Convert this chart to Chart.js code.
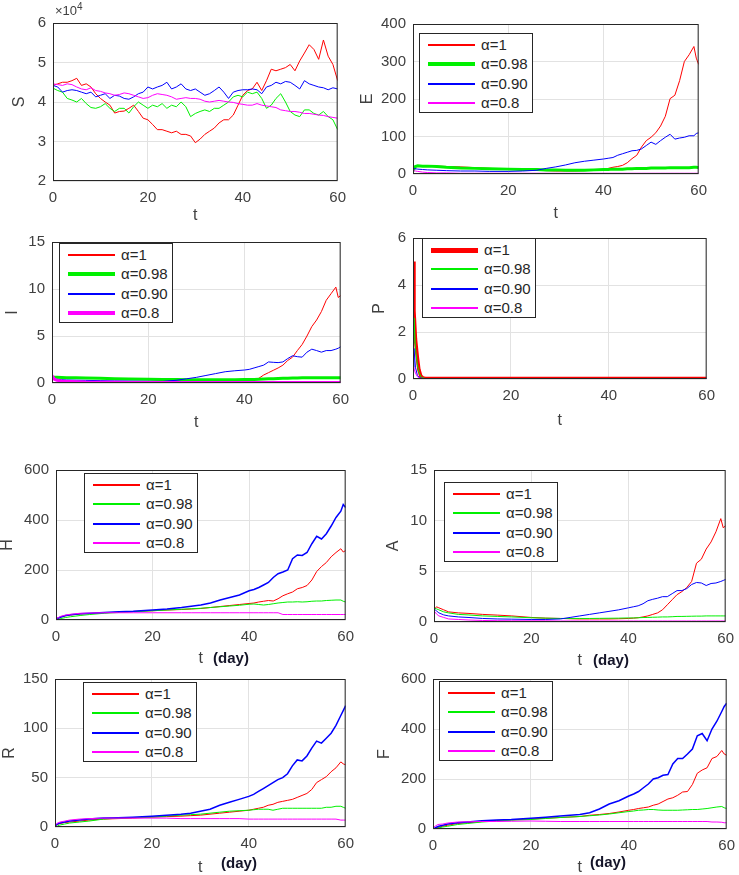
<!DOCTYPE html>
<html lang="en">
<head>
<meta charset="utf-8">
<title>Stochastic fractional model - sample paths</title>
<script src="https://cdn.jsdelivr.net/npm/chart.js"></script>
<style>
  body { margin:0; background:#fff; width:739px; height:875px; position:relative; overflow:hidden;
         font-family:"Liberation Sans", Arial, sans-serif; }
  canvas { position:absolute; }
  .legend { position:absolute; background:#fff; border:1px solid #262626; width:114px; height:80px;
            box-sizing:border-box; z-index:3; }
  .legend .sw { position:absolute; left:8px; width:47px; }
  .legend .lb { position:absolute; left:61px; font-size:15px; line-height:18px; color:#262626; white-space:nowrap; }
  .exp { position:absolute; left:55px; top:1px; font-size:13px; color:#404040; z-index:3; }
  .exp sup { font-size:10px; }
  .day { position:absolute; font-weight:bold; font-size:15px; line-height:18px; color:#141428;
         transform:translate(-50%,-50%); z-index:3; }
</style>
</head>
<body>
<div class="exp">&times;10<sup>4</sup></div>
<script>
// time grids
const tS = [0,1,2,3,4,5,6,7,8,9,10,11,12,13,14,15,16,17,18,19,20,21,22,23,24,25,26,27,28,29,
            30,31,32,33,34,35,36,37,38,39,40,41,42,43,44,45,46,47,48,49,50,51,52,53,54,55,56,57,58,59,60];
const tGrid = [0,0.5,1,2,3,5,7,10,13,16,20,23,26,28,30,32,34,36,38,40,41,42,43,44,45,46,47,48,49,50,
               51,52,53,54,55,56,57,58,59,59.5,60];
const tP = [0,0.2,0.5,0.9,1.2,1.6,2,2.5,3,60];

const alphaLabels = ['α=1', 'α=0.98', 'α=0.90', 'α=0.8'];
const seriesColors = ['#ff0000', '#00f000', '#0000ff', '#ff00ff'];

// S (units of 10^4)
const sRed = [4.42,4.46,4.5,4.5,4.54,4.6,4.42,4.46,4.38,4.21,
  4.09,4.0,3.92,3.72,3.76,3.77,3.84,3.92,3.76,3.59,
  3.55,3.43,3.3,3.3,3.26,3.22,3.26,3.18,3.18,3.14,
  2.97,3.06,3.18,3.26,3.34,3.47,3.55,3.55,3.67,3.92,
  4.17,4.29,4.33,4.5,4.29,4.54,4.83,4.79,4.83,4.87,
  4.95,4.79,5.04,5.24,5.45,5.33,5.08,5.57,5.16,4.95,4.54];
const sGreen = [4.35,4.29,4.25,4.09,4.05,4.0,4.09,3.96,3.86,3.84,
  3.88,3.96,3.84,3.76,3.84,3.84,3.72,3.88,4.0,3.92,
  3.84,3.92,3.88,3.96,3.84,3.92,3.88,4.0,3.88,3.63,
  3.71,3.76,3.8,3.76,3.84,3.84,3.92,4.0,4.13,4.17,
  4.13,4.25,4.21,4.25,4.09,3.84,3.92,4.09,4.21,4.0,
  3.76,3.67,3.63,3.8,3.8,3.71,3.67,3.76,3.63,3.55,3.3];
const sBlue = [4.42,4.38,4.25,4.29,4.31,4.29,4.25,4.21,4.25,4.13,
  4.17,4.21,4.09,4.17,4.15,4.09,4.07,4.13,4.21,4.25,
  4.38,4.33,4.38,4.42,4.5,4.33,4.38,4.46,4.33,4.29,
  4.33,4.25,4.17,4.21,4.29,4.38,4.25,4.09,4.25,4.29,
  4.31,4.31,4.33,4.31,4.21,4.38,4.42,4.5,4.46,4.52,
  4.5,4.42,4.33,4.54,4.46,4.42,4.38,4.36,4.31,4.36,4.33];
const sMagenta = [4.46,4.44,4.42,4.46,4.44,4.38,4.33,4.31,4.36,4.29,
  4.27,4.23,4.21,4.17,4.19,4.23,4.21,4.17,4.13,4.09,
  4.11,4.17,4.21,4.19,4.17,4.13,4.07,4.09,4.11,4.09,
  4.09,4.07,4.02,4.0,4.02,4.04,4.02,4.0,3.99,3.96,
  3.94,3.92,3.92,3.96,3.92,3.9,3.88,3.86,3.8,3.78,
  3.76,3.76,3.74,3.71,3.71,3.69,3.67,3.66,3.63,3.61,3.59];

// E
const eRed = [15,20,21,22,21,21,20,19,17,15,13,11,10,9,8,8,8,9,10,11,15,18,20,23,30,41,50,72,89,98,
  110,128,154,201,210,249,300,318,340,309,292];
const eGreen = [8,20,22,21,21,20,18,16,15,14,13,12,12,11,11,10,10,10,11,12,12,13,13,13,14,14,15,15,15,16,
  16,16,16,17,17,17,17,17,18,18,17];
const eBlue = [15,14,13,12,11,10,9,8,8,7,7,8,10,15,19,24,30,34,37,40,42,44,50,54,58,62,63,67,76,85,
  79,89,98,106,93,96,98,102,102,108,110];
const eMagenta = [10,8,7,5,4,3,3,2,2,2,2,2,2,2,2,2,2,2,2,2,2,2,2,2,2,2,2,2,2,2,
  2,2,2,2,2,2,2,2,2,2,2];

// I
const iRed = [0.6,0.6,0.6,0.6,0.55,0.55,0.5,0.5,0.45,0.42,0.38,0.32,0.28,0.25,0.22,0.2,0.2,0.2,0.2,0.22,
  0.25,0.32,0.5,0.85,1.1,1.35,1.6,1.9,2.4,2.75,3.45,4.1,5.0,6.0,6.7,7.6,8.8,9.5,10.2,9.1,9.3];
const iGreen = [0.5,0.6,0.6,0.58,0.56,0.55,0.52,0.5,0.45,0.42,0.4,0.38,0.36,0.35,0.35,0.35,0.35,0.35,0.35,0.36,
  0.37,0.38,0.4,0.42,0.45,0.45,0.48,0.5,0.5,0.52,0.52,0.55,0.55,0.55,0.55,0.55,0.55,0.55,0.55,0.55,0.55];
const iBlue = [0.5,0.45,0.4,0.35,0.32,0.3,0.28,0.25,0.22,0.2,0.18,0.17,0.3,0.45,0.6,0.8,1.0,1.2,1.3,1.38,
  1.45,1.6,1.75,1.9,2.24,2.2,2.17,2.24,2.6,2.9,2.8,2.75,3.28,3.6,3.45,3.28,3.45,3.45,3.6,3.7,3.86];
const iMagenta = [0.8,0.4,0.3,0.22,0.18,0.14,0.1,0.08,0.07,0.06,0.05,0.05,0.05,0.05,0.05,0.05,0.05,0.05,0.05,0.05,
  0.05,0.05,0.05,0.05,0.05,0.05,0.05,0.05,0.05,0.05,0.05,0.05,0.05,0.05,0.05,0.05,0.05,0.05,0.05,0.05,0.05];

// P
const pRed = [5,2.9,1.7,0.9,0.4,0.12,0.05,0.02,0.02,0.02];
const pGreen = [1.5,2.6,1.3,0.6,0.3,0.1,0.05,0.02,0.02,0.02];
const pBlue = [0.5,1.3,0.5,0.15,0.08,0.04,0.02,0.02,0.02,0.02];
const pMagenta = [0.5,0.45,0.25,0.1,0.05,0.03,0.02,0.02,0.02,0.02];

// H
const hRed = [5,8,12,17,20,24,26,29,31,34,37,40,42,44,46,50,54,58,62,66,68,72,75,78,76,85,97,105,112,125,
  130,138,160,194,214,230,253,270,285,272,278];
const hGreen = [0,3,6,10,13,18,22,27,30,33,37,40,43,45,47,50,53,56,59,63,64,62,60,62,65,68,70,72,72,73,
  72,73,75,76,76,78,79,80,80,75,72];
const hBlue = [5,8,12,18,21,25,27,30,33,35,40,44,50,55,60,68,80,90,100,117,122,130,140,150,170,185,192,200,245,260,
  258,270,305,335,324,345,376,410,435,462,450];
const hMagenta = [5,10,15,20,23,27,28,29,29,29,29,29,29,29,29,29,29,29,29,29,29,29,29,29,29,29,22,22,22,22,
  22,22,22,22,22,22,22,22,22,22,22];

// A
const aRed = [1.2,1.5,1.4,1.2,1.0,0.9,0.85,0.75,0.68,0.6,0.45,0.38,0.35,0.32,0.3,0.3,0.3,0.3,0.32,0.35,
  0.38,0.42,0.5,0.6,0.75,0.9,1.2,1.7,2.2,2.7,3.0,3.4,4.0,5.8,6.2,7.2,7.9,8.9,10.2,9.3,9.5];
const aGreen = [1.4,1.3,1.2,1.0,0.9,0.75,0.7,0.6,0.55,0.5,0.42,0.38,0.35,0.35,0.35,0.35,0.36,0.37,0.38,0.4,
  0.4,0.42,0.44,0.45,0.47,0.48,0.5,0.5,0.52,0.55,0.55,0.56,0.57,0.58,0.58,0.6,0.6,0.6,0.6,0.6,0.6];
const aBlue = [1.3,1.1,0.9,0.7,0.6,0.5,0.45,0.35,0.3,0.28,0.25,0.25,0.3,0.45,0.6,0.75,0.9,1.05,1.2,1.4,
  1.5,1.6,1.8,2.1,2.24,2.35,2.5,2.5,2.8,3.1,3.1,3.3,3.7,3.9,3.85,3.6,3.8,3.85,4.0,4.1,4.2];
const aMagenta = [1.1,0.8,0.6,0.45,0.3,0.25,0.2,0.15,0.13,0.12,0.12,0.12,0.1,0.1,0.1,0.1,0.1,0.1,0.1,0.1,
  0.1,0.1,0.1,0.1,0.1,0.1,0.1,0.1,0.1,0.1,0.1,0.1,0.1,0.1,0.1,0.1,0.1,0.1,0.1,0.1,0.1];

// R
const rRed = [1,2.5,3.5,4.5,5,6,7,8,8.5,9,10,10.5,11,11.5,12,13,14,15,16,17,18,19,20,22,23,25,26,27,28,30,
  32,34,38,45,48,51,56,60,66,64,63];
const rGreen = [0,1,2,3,4,5,6,8,9,9.5,10,11,12,12.5,13,14,15,16,16.5,17,17.5,18,18,18,17,18,19,19,19,19,
  19,19,19,19,19,20,20,21,21,20,19];
const rBlue = [1,3,4,5,6,7,8,9,9.5,10,11,12,13,14,16,18,22,25,28,31,33,36,39,42,45,48,50,54,62,68,
  67,72,80,87,85,90,95,103,113,118,123];
const rMagenta = [2,4,5,6,7,8,8.5,9,9,9,9,9,8.5,8.5,8.5,8.5,8.5,8.5,8.5,8,8,8,8,8,8,8,8,8,8,8,
  8,8,8,8,8,8,8,8,7,7,7];

// F
const fRed = [0,3,6,11,15,22,25,30,34,37,40,43,46,48,50,55,58,62,68,75,78,82,85,88,95,100,110,120,125,135,
  148,150,178,223,236,245,282,290,314,300,295];
const fGreen = [0,2,4,8,11,18,22,28,32,35,38,42,46,48,50,53,56,60,65,70,72,75,76,78,78,76,75,75,75,75,
  76,77,78,78,80,82,85,88,90,85,82];
const fBlue = [0,5,10,15,20,25,28,33,36,38,43,47,52,55,58,65,80,100,113,132,140,150,165,180,200,205,215,218,260,282,
  282,300,320,373,382,353,400,431,470,490,503];
const fMagenta = [5,12,18,20,24,28,29,30,30,31,32,31,30,30,30,30,30,30,30,30,30,30,30,30,30,30,30,30,30,30,
  30,30,30,30,30,30,28,28,27,25,25];

// y tick values
const sTicks = [2,3,4,5,6];
const eTicks = [0,100,200,300,400];
const iTicks = [0,5,10,15];
const pTicks = [0,2,4,6];
const hTicks = [0,200,400,600];
const aTicks = [0,5,10,15];
const rTicks = [0,50,100,150];
const fTicks = [0,200,400,600];
const xTicks = [0,20,40,60];

// layout: area = [left, top, right, bottom] of the plot box in page px
const panels = [
  { name:'S', t:tS, values:[sRed,sGreen,sBlue,sMagenta], ticks:sTicks, area:[53,19,340,181], yLabelX:20, xLabelY:215, widths:[1,1,1,1] },
  { name:'E', t:tGrid, values:[eRed,eGreen,eBlue,eMagenta], ticks:eTicks, area:[413,20,701,174], yLabelX:368, xLabelY:213, widths:[1,3,1,1],
    legend:{ x:419, y:33, widths:[2,4,2,2] } },
  { name:'I', t:tGrid, values:[iRed,iGreen,iBlue,iMagenta], ticks:iTicks, area:[52,238,343,383], yLabelX:13, xLabelY:422, widths:[1,3,1,3],
    legend:{ x:59, y:243, widths:[2,4,2,4] } },
  { name:'P', t:tP, values:[pRed,pGreen,pBlue,pMagenta], ticks:pTicks, area:[413,234,709,379], yLabelX:380, xLabelY:420, widths:[3.5,1,1,1],
    legend:{ x:422, y:238, widths:[5,2,2,2] } },
  { name:'H', t:tGrid, values:[hRed,hGreen,hBlue,hMagenta], ticks:hTicks, area:[56,466,348,620], yLabelX:8, xLabelY:658, widths:[1,1,1.5,1],
    legend:{ x:84, y:473, widths:[2,2,2,2] }, day:[231,658] },
  { name:'A', t:tGrid, values:[aRed,aGreen,aBlue,aMagenta], ticks:aTicks, area:[434,466,728,622], yLabelX:394, xLabelY:660, widths:[1,1,1,1],
    legend:{ x:444, y:482, widths:[2,2,2,2] }, day:[611,660] },
  { name:'R', t:tGrid, values:[rRed,rGreen,rBlue,rMagenta], ticks:rTicks, area:[55,675,348,827], yLabelX:10, xLabelY:867, widths:[1,1,1.5,1],
    legend:{ x:83, y:682, widths:[2,2,2,2] }, day:[239,863] },
  { name:'F', t:tGrid, values:[fRed,fGreen,fBlue,fMagenta], ticks:fTicks, area:[433,675,729,829], yLabelX:385, xLabelY:867, widths:[1,1,1.5,1],
    legend:{ x:439, y:681, widths:[2,2,2,2] }, day:[608,862] }
];

const boxPlugin = {
  id: 'box',
  afterDatasetsDraw(chart) {
    const { ctx, chartArea: a } = chart;
    ctx.save();
    ctx.strokeStyle = '#262626';
    ctx.lineWidth = 1;
    ctx.strokeRect(a.left + 0.5, a.top + 0.5, a.right - a.left - 1, a.bottom - a.top - 1);
    ctx.restore();
  }
};

function makePanel(p) {
  const [l, t, r, b] = p.area;
  const cl = Math.round(p.yLabelX - 9.6);
  const ct = t - 12;
  const cr = r + 14;
  const cb = Math.round(p.xLabelY + 9.6);
  const canvas = document.createElement('canvas');
  canvas.width = cr - cl;
  canvas.height = cb - ct;
  canvas.style.left = cl + 'px';
  canvas.style.top = ct + 'px';
  document.body.appendChild(canvas);
  const axisW = l - cl, axisH = cb - b;
  const yt = p.ticks;

  new Chart(canvas, {
    type: 'line',
    data: {
      datasets: p.values.map((vals, i) => ({
        label: alphaLabels[i],
        data: p.t.map((x, j) => ({ x: x, y: vals[j] })),
        borderColor: seriesColors[i],
        borderWidth: p.widths[i],
        pointRadius: 0,
        tension: 0,
        order: 4 - i
      }))
    },
    options: {
      responsive: false,
      animation: false,
      events: [],
      layout: { padding: { top: 12, right: 14, left: 0, bottom: 0 } },
      plugins: { legend: { display: false }, tooltip: { enabled: false } },
      scales: {
        x: {
          type: 'linear', min: xTicks[0], max: xTicks[xTicks.length - 1],
          ticks: { stepSize: xTicks[1] - xTicks[0], padding: 8, color: '#404040', maxRotation: 0,
                   font: { size: 15, family: '"Liberation Sans", Arial, sans-serif' } },
          grid: { color: '#e2e2e2', drawTicks: false },
          border: { display: false },
          title: { display: true, text: 't', padding: 0, color: '#404040',
                   font: { size: 16, family: '"Liberation Sans", Arial, sans-serif' } },
          afterFit(s) { s.height = axisH; }
        },
        y: {
          type: 'linear', min: yt[0], max: yt[yt.length - 1],
          ticks: { stepSize: yt[1] - yt[0], padding: 7, color: '#404040',
                   font: { size: 15, family: '"Liberation Sans", Arial, sans-serif' } },
          grid: { color: '#e2e2e2', drawTicks: false },
          border: { display: false },
          title: { display: true, text: p.name, padding: 0, color: '#404040',
                   font: { size: 16, family: '"Liberation Sans", Arial, sans-serif' } },
          afterFit(s) { s.width = axisW; }
        }
      }
    },
    plugins: [boxPlugin]
  });

  if (p.legend) {
    const box = document.createElement('div');
    box.className = 'legend';
    box.style.left = p.legend.x + 'px';
    box.style.top = p.legend.y + 'px';
    alphaLabels.forEach((txt, i) => {
      const cy = 11 + Math.round(i * 19.3);
      const w = p.legend.widths[i];
      const sw = document.createElement('div');
      sw.className = 'sw';
      sw.style.top = Math.round(cy - w / 2) + 'px';
      sw.style.height = w + 'px';
      sw.style.background = seriesColors[i];
      const lb = document.createElement('div');
      lb.className = 'lb';
      lb.style.top = (cy - 9) + 'px';
      lb.textContent = txt;
      box.appendChild(sw);
      box.appendChild(lb);
    });
    document.body.appendChild(box);
  }
  if (p.day) {
    const d = document.createElement('div');
    d.className = 'day';
    d.style.left = p.day[0] + 'px';
    d.style.top = p.day[1] + 'px';
    d.textContent = '(day)';
    document.body.appendChild(d);
  }
}

panels.forEach(makePanel);
</script>
</body>
</html>
